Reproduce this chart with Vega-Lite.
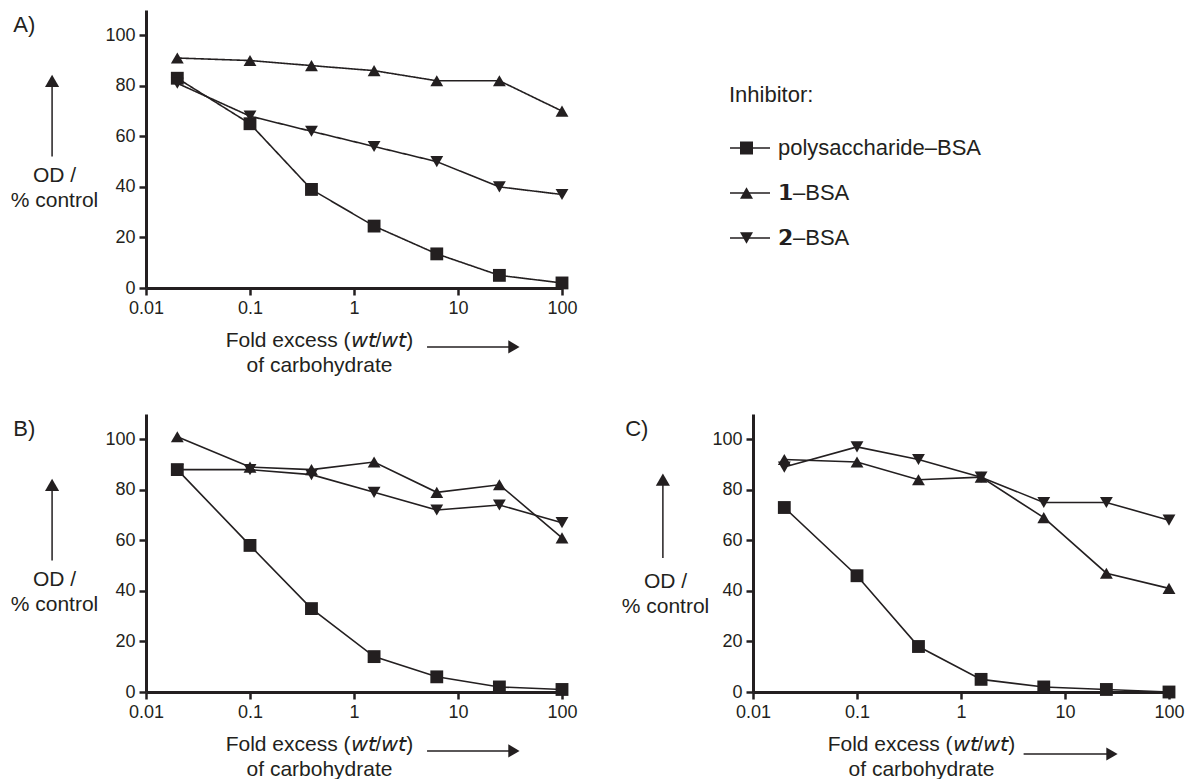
{
  "$schema": "https://vega.github.io/schema/vega-lite/v6.json",
  "autosize": {"type": "pad"},
  "padding": {"left": 10, "top": 10, "right": 0, "bottom": 0},
  "background": "white",
  "data": {"values": [
    {"panel": "A", "inhibitor": "polysaccharide-BSA", "excess": 0.02, "od": 83},
    {"panel": "A", "inhibitor": "polysaccharide-BSA", "excess": 0.1, "od": 65},
    {"panel": "A", "inhibitor": "polysaccharide-BSA", "excess": 0.39, "od": 39},
    {"panel": "A", "inhibitor": "polysaccharide-BSA", "excess": 1.56, "od": 24.5},
    {"panel": "A", "inhibitor": "polysaccharide-BSA", "excess": 6.25, "od": 13.5},
    {"panel": "A", "inhibitor": "polysaccharide-BSA", "excess": 25, "od": 5},
    {"panel": "A", "inhibitor": "polysaccharide-BSA", "excess": 100, "od": 2},
    {"panel": "A", "inhibitor": "1-BSA", "excess": 0.02, "od": 91},
    {"panel": "A", "inhibitor": "1-BSA", "excess": 0.1, "od": 90},
    {"panel": "A", "inhibitor": "1-BSA", "excess": 0.39, "od": 88},
    {"panel": "A", "inhibitor": "1-BSA", "excess": 1.56, "od": 86},
    {"panel": "A", "inhibitor": "1-BSA", "excess": 6.25, "od": 82},
    {"panel": "A", "inhibitor": "1-BSA", "excess": 25, "od": 82},
    {"panel": "A", "inhibitor": "1-BSA", "excess": 100, "od": 70},
    {"panel": "A", "inhibitor": "2-BSA", "excess": 0.02, "od": 81},
    {"panel": "A", "inhibitor": "2-BSA", "excess": 0.1, "od": 68},
    {"panel": "A", "inhibitor": "2-BSA", "excess": 0.39, "od": 62},
    {"panel": "A", "inhibitor": "2-BSA", "excess": 1.56, "od": 56},
    {"panel": "A", "inhibitor": "2-BSA", "excess": 6.25, "od": 50},
    {"panel": "A", "inhibitor": "2-BSA", "excess": 25, "od": 40},
    {"panel": "A", "inhibitor": "2-BSA", "excess": 100, "od": 37},
    {"panel": "B", "inhibitor": "polysaccharide-BSA", "excess": 0.02, "od": 88},
    {"panel": "B", "inhibitor": "polysaccharide-BSA", "excess": 0.1, "od": 58},
    {"panel": "B", "inhibitor": "polysaccharide-BSA", "excess": 0.39, "od": 33},
    {"panel": "B", "inhibitor": "polysaccharide-BSA", "excess": 1.56, "od": 14},
    {"panel": "B", "inhibitor": "polysaccharide-BSA", "excess": 6.25, "od": 6},
    {"panel": "B", "inhibitor": "polysaccharide-BSA", "excess": 25, "od": 2},
    {"panel": "B", "inhibitor": "polysaccharide-BSA", "excess": 100, "od": 1},
    {"panel": "B", "inhibitor": "1-BSA", "excess": 0.02, "od": 101},
    {"panel": "B", "inhibitor": "1-BSA", "excess": 0.1, "od": 89},
    {"panel": "B", "inhibitor": "1-BSA", "excess": 0.39, "od": 88},
    {"panel": "B", "inhibitor": "1-BSA", "excess": 1.56, "od": 91},
    {"panel": "B", "inhibitor": "1-BSA", "excess": 6.25, "od": 79},
    {"panel": "B", "inhibitor": "1-BSA", "excess": 25, "od": 82},
    {"panel": "B", "inhibitor": "1-BSA", "excess": 100, "od": 61},
    {"panel": "B", "inhibitor": "2-BSA", "excess": 0.02, "od": 88},
    {"panel": "B", "inhibitor": "2-BSA", "excess": 0.1, "od": 88},
    {"panel": "B", "inhibitor": "2-BSA", "excess": 0.39, "od": 86},
    {"panel": "B", "inhibitor": "2-BSA", "excess": 1.56, "od": 79},
    {"panel": "B", "inhibitor": "2-BSA", "excess": 6.25, "od": 72},
    {"panel": "B", "inhibitor": "2-BSA", "excess": 25, "od": 74},
    {"panel": "B", "inhibitor": "2-BSA", "excess": 100, "od": 67},
    {"panel": "C", "inhibitor": "polysaccharide-BSA", "excess": 0.02, "od": 73},
    {"panel": "C", "inhibitor": "polysaccharide-BSA", "excess": 0.1, "od": 46},
    {"panel": "C", "inhibitor": "polysaccharide-BSA", "excess": 0.39, "od": 18},
    {"panel": "C", "inhibitor": "polysaccharide-BSA", "excess": 1.56, "od": 5},
    {"panel": "C", "inhibitor": "polysaccharide-BSA", "excess": 6.25, "od": 2},
    {"panel": "C", "inhibitor": "polysaccharide-BSA", "excess": 25, "od": 1},
    {"panel": "C", "inhibitor": "polysaccharide-BSA", "excess": 100, "od": 0},
    {"panel": "C", "inhibitor": "1-BSA", "excess": 0.02, "od": 92},
    {"panel": "C", "inhibitor": "1-BSA", "excess": 0.1, "od": 91},
    {"panel": "C", "inhibitor": "1-BSA", "excess": 0.39, "od": 84},
    {"panel": "C", "inhibitor": "1-BSA", "excess": 1.56, "od": 85},
    {"panel": "C", "inhibitor": "1-BSA", "excess": 6.25, "od": 69},
    {"panel": "C", "inhibitor": "1-BSA", "excess": 25, "od": 47},
    {"panel": "C", "inhibitor": "1-BSA", "excess": 100, "od": 41},
    {"panel": "C", "inhibitor": "2-BSA", "excess": 0.02, "od": 89},
    {"panel": "C", "inhibitor": "2-BSA", "excess": 0.1, "od": 97},
    {"panel": "C", "inhibitor": "2-BSA", "excess": 0.39, "od": 92},
    {"panel": "C", "inhibitor": "2-BSA", "excess": 1.56, "od": 85},
    {"panel": "C", "inhibitor": "2-BSA", "excess": 6.25, "od": 75},
    {"panel": "C", "inhibitor": "2-BSA", "excess": 25, "od": 75},
    {"panel": "C", "inhibitor": "2-BSA", "excess": 100, "od": 68}
  ]},
  "resolve": {"legend": {"shape": "independent", "strokeDash": "independent"}},
  "spacing": 39,
  "vconcat": [
    {
      "width": 416, "height": 278,
      "title": {"text": "A)", "anchor": "start", "frame": "bounds", "orient": "top", "offset": -44, "dx": 3, "baseline": "alphabetic", "fontSize": 22, "fontWeight": "normal", "font": "Liberation Sans", "color": "#231f20"},
      "layer": [
        {
          "transform": [{"filter": "datum.panel == 'A'"}],
          "mark": {"type": "line", "color": "#231f20", "strokeWidth": 1.6},
          "encoding": {
            "x": {"field": "excess", "type": "quantitative", "scale": {"type": "log", "domain": [0.01, 100], "nice": false},
                  "axis": {"values": [0.01, 0.1, 1, 10, 100], "format": "~g", "title": ["Fold excess (𝘸𝘵/𝘸𝘵)", "of carbohydrate"], "titleX": 173, "titleY": 41, "titleAlign": "center", "titleBaseline": "top", "titleLineHeight": 25}},
            "y": {"field": "od", "type": "quantitative", "scale": {"domain": [0, 110], "nice": false},
                  "axis": {"values": [0, 20, 40, 60, 80, 100], "title": ["OD /", "% control"], "titleAngle": 0, "titleAlign": "center", "titleBaseline": "top", "titleX": -92, "titleY": 154, "titleLineHeight": 25}},
            "strokeDash": {"field": "inhibitor", "type": "nominal",
              "sort": ["polysaccharide-BSA", "1-BSA", "2-BSA"],
              "scale": {"range": [[1, 0], [1, 0], [1, 0]]},
              "legend": {
                "title": "Inhibitor:", "orient": "none", "legendX": 583, "legendY": 75,
                "titleFont": "Liberation Sans", "titleFontSize": 22, "titleFontWeight": "normal", "titleColor": "#231f20", "titlePadding": 20,
                "labelFont": "Liberation Sans", "labelFontSize": 22, "labelColor": "#231f20", "labelOffset": 7, "labelLimit": 400,
                "symbolType": "stroke", "symbolSize": 1600, "symbolStrokeWidth": 1.6, "symbolStrokeColor": "#231f20", "rowPadding": 13,
                "labelExpr": "datum.value == 'polysaccharide-BSA' ? 'polysaccharide–BSA' : datum.value == '1-BSA' ? '𝟭–BSA' : '𝟮–BSA'"
              }}
          }
        },
        {
          "transform": [{"filter": "datum.panel == 'A'"}],
          "mark": {"type": "point", "filled": true, "opacity": 1, "color": "#231f20", "size": 165},
          "encoding": {
            "x": {"field": "excess", "type": "quantitative"},
            "y": {"field": "od", "type": "quantitative"},
            "shape": {"field": "inhibitor", "type": "nominal",
              "scale": {"domain": ["polysaccharide-BSA", "1-BSA", "2-BSA"], "range": ["square", "triangle-up", "triangle-down"]},
              "legend": {
                "title": null, "orient": "none", "legendX": 594, "legendY": 131.5,
                "labelFontSize": 1, "labelExpr": "''", "labelOffset": 0,
                "symbolSize": 169, "symbolFillColor": "#231f20", "symbolStrokeWidth": 0, "rowPadding": 32
              }}
          }
        },
        {"data": {"values": [{}]}, "mark": {"type": "rule", "color": "#231f20", "strokeWidth": 1.5},
         "encoding": {"x": {"datum": 0.00125}, "y": {"datum": 52}, "y2": {"datum": 80}}},
        {"data": {"values": [{}]}, "mark": {"type": "point", "shape": "triangle-up", "filled": true, "opacity": 1, "color": "#231f20", "size": 200},
         "encoding": {"x": {"datum": 0.00125}, "y": {"datum": 82}}},
        {"data": {"values": [{}]}, "mark": {"type": "rule", "color": "#231f20", "strokeWidth": 1.5},
         "encoding": {"x": {"datum": 5.04}, "x2": {"datum": 31.6}, "y": {"datum": -23.3}}},
        {"data": {"values": [{}]}, "mark": {"type": "point", "shape": "triangle-right", "filled": true, "opacity": 1, "color": "#231f20", "size": 170},
         "encoding": {"x": {"datum": 34.5}, "y": {"datum": -23.3}}}
      ]
    },
    {
      "spacing": 43,
      "hconcat": [
        {
          "width": 416, "height": 278,
          "title": {"text": "B)", "anchor": "start", "frame": "bounds", "orient": "top", "offset": -44, "dx": 3, "baseline": "alphabetic", "fontSize": 22, "fontWeight": "normal", "font": "Liberation Sans", "color": "#231f20"},
          "layer": [
            {
              "transform": [{"filter": "datum.panel == 'B'"}],
              "mark": {"type": "line", "color": "#231f20", "strokeWidth": 1.6},
              "encoding": {
                "x": {"field": "excess", "type": "quantitative", "scale": {"type": "log", "domain": [0.01, 100], "nice": false},
                      "axis": {"values": [0.01, 0.1, 1, 10, 100], "format": "~g", "title": ["Fold excess (𝘸𝘵/𝘸𝘵)", "of carbohydrate"], "titleX": 173, "titleY": 41, "titleAlign": "center", "titleBaseline": "top", "titleLineHeight": 25}},
                "y": {"field": "od", "type": "quantitative", "scale": {"domain": [0, 110], "nice": false},
                      "axis": {"values": [0, 20, 40, 60, 80, 100], "title": ["OD /", "% control"], "titleAngle": 0, "titleAlign": "center", "titleBaseline": "top", "titleX": -92, "titleY": 154, "titleLineHeight": 25}},
                "detail": {"field": "inhibitor"}
              }
            },
            {
              "transform": [{"filter": "datum.panel == 'B'"}],
              "mark": {"type": "point", "filled": true, "opacity": 1, "color": "#231f20", "size": 165},
              "encoding": {
                "x": {"field": "excess", "type": "quantitative"},
                "y": {"field": "od", "type": "quantitative"},
                "shape": {"field": "inhibitor", "type": "nominal",
                  "scale": {"domain": ["polysaccharide-BSA", "1-BSA", "2-BSA"], "range": ["square", "triangle-up", "triangle-down"]},
                  "legend": null}
              }
            },
            {"data": {"values": [{}]}, "mark": {"type": "rule", "color": "#231f20", "strokeWidth": 1.5},
             "encoding": {"x": {"datum": 0.00125}, "y": {"datum": 52}, "y2": {"datum": 80}}},
            {"data": {"values": [{}]}, "mark": {"type": "point", "shape": "triangle-up", "filled": true, "opacity": 1, "color": "#231f20", "size": 200},
             "encoding": {"x": {"datum": 0.00125}, "y": {"datum": 82}}},
            {"data": {"values": [{}]}, "mark": {"type": "rule", "color": "#231f20", "strokeWidth": 1.5},
             "encoding": {"x": {"datum": 5.04}, "x2": {"datum": 31.6}, "y": {"datum": -23.3}}},
            {"data": {"values": [{}]}, "mark": {"type": "point", "shape": "triangle-right", "filled": true, "opacity": 1, "color": "#231f20", "size": 170},
             "encoding": {"x": {"datum": 34.5}, "y": {"datum": -23.3}}}
          ]
        },
        {
          "width": 416, "height": 278,
          "title": {"text": "C)", "anchor": "start", "frame": "bounds", "orient": "top", "offset": -44, "dx": 4, "baseline": "alphabetic", "fontSize": 22, "fontWeight": "normal", "font": "Liberation Sans", "color": "#231f20"},
          "layer": [
            {
              "transform": [{"filter": "datum.panel == 'C'"}],
              "mark": {"type": "line", "color": "#231f20", "strokeWidth": 1.6},
              "encoding": {
                "x": {"field": "excess", "type": "quantitative", "scale": {"type": "log", "domain": [0.01, 100], "nice": false},
                      "axis": {"values": [0.01, 0.1, 1, 10, 100], "format": "~g", "title": ["Fold excess (𝘸𝘵/𝘸𝘵)", "of carbohydrate"], "titleX": 168, "titleY": 41, "titleAlign": "center", "titleBaseline": "top", "titleLineHeight": 25}},
                "y": {"field": "od", "type": "quantitative", "scale": {"domain": [0, 110], "nice": false},
                      "axis": {"values": [0, 20, 40, 60, 80, 100], "title": ["OD /", "% control"], "titleAngle": 0, "titleAlign": "center", "titleBaseline": "top", "titleX": -88, "titleY": 156, "titleLineHeight": 25}},
                "detail": {"field": "inhibitor"}
              }
            },
            {
              "transform": [{"filter": "datum.panel == 'C'"}],
              "mark": {"type": "point", "filled": true, "opacity": 1, "color": "#231f20", "size": 165},
              "encoding": {
                "x": {"field": "excess", "type": "quantitative"},
                "y": {"field": "od", "type": "quantitative"},
                "shape": {"field": "inhibitor", "type": "nominal",
                  "scale": {"domain": ["polysaccharide-BSA", "1-BSA", "2-BSA"], "range": ["square", "triangle-up", "triangle-down"]},
                  "legend": null}
              }
            },
            {"data": {"values": [{}]}, "mark": {"type": "rule", "color": "#231f20", "strokeWidth": 1.5},
             "encoding": {"x": {"datum": 0.00136}, "y": {"datum": 53}, "y2": {"datum": 82}}},
            {"data": {"values": [{}]}, "mark": {"type": "point", "shape": "triangle-up", "filled": true, "opacity": 1, "color": "#231f20", "size": 200},
             "encoding": {"x": {"datum": 0.00136}, "y": {"datum": 84}}},
            {"data": {"values": [{}]}, "mark": {"type": "rule", "color": "#231f20", "strokeWidth": 1.5},
             "encoding": {"x": {"datum": 4.0}, "x2": {"datum": 25.5}, "y": {"datum": -24.5}}},
            {"data": {"values": [{}]}, "mark": {"type": "point", "shape": "triangle-right", "filled": true, "opacity": 1, "color": "#231f20", "size": 170},
             "encoding": {"x": {"datum": 28.3}, "y": {"datum": -24.5}}}
          ]
        }
      ]
    }
  ],
  "config": {
    "font": "Liberation Sans",
    "view": {"stroke": null},
    "axis": {
      "grid": false,
      "domainColor": "#231f20", "domainWidth": 3,
      "tickColor": "#231f20", "tickWidth": 2.5, "tickSize": 7,
      "labelFont": "Liberation Sans",
      "labelFontSize": 18, "labelColor": "#231f20", "labelPadding": 4,
      "labelFlush": false, "labelOverlap": false,
      "titleFont": "Liberation Sans", "titleFontSize": 21, "titleFontWeight": "normal", "titleColor": "#231f20"
    }
  }
}
